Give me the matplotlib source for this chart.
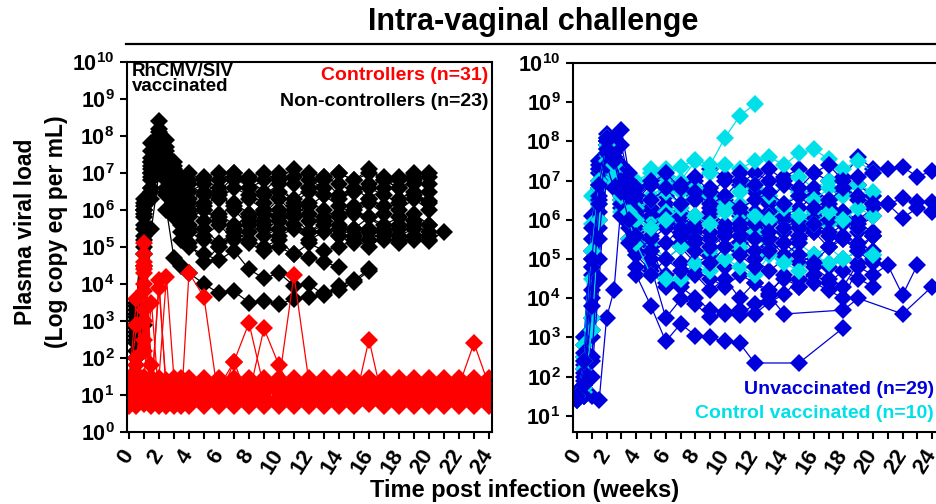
import numpy as np
import matplotlib
matplotlib.use('Agg')
import matplotlib.pyplot as plt
from matplotlib.lines import Line2D

plt.rcParams['font.family'] = ['Liberation Sans', 'DejaVu Sans']
plt.rcParams['font.weight'] = 'bold'
plt.rcParams['mathtext.fontset'] = 'custom'
plt.rcParams['mathtext.rm'] = 'Liberation Sans:bold'
plt.rcParams['mathtext.bf'] = 'Liberation Sans:bold'
plt.rcParams['mathtext.it'] = 'Liberation Sans:bold'

nan = np.nan

# sampling times (weeks post infection)
weeks = [0, 0.5, 1, 1.5, 2, 2.5, 3, 3.5, 4, 5, 6, 7, 8, 9, 10, 11, 12,
         13, 14, 15, 16, 17, 18, 19, 20, 21, 22, 23, 24]

# log10 plasma viral load per animal, RhCMV/SIV vaccinated non-controllers
non_controllers = [
    [1.3, 3.5, 6.0, 7.6, 8.4, 7.9, 7.3, 6.9, 6.8, 6.9, 7.0, 6.8, 6.9, 7.0, 6.8, 6.9, 7.0, 6.9, 7.0, 6.8, 7.0, 6.9, 6.8, 6.9, 7.0],
    [1.2, 2.8, 5.6, 7.2, 8.0, 7.6, 7.0, 6.6, 6.5, 6.7, 6.5, 6.9, 6.6, 6.8, 7.0, 6.7, 6.6, 6.9, 6.7, 6.5, 6.7, 6.8, 6.6, 6.7, 6.7],
    [1.3, 3.2, 6.2, 7.0, 7.8, 7.2, 6.7, 6.4, 6.2, 6.5, 6.3, 6.6, 6.4, 6.2, 6.5, 6.3, 6.6, 6.4, 6.3, 6.5, 6.6, 6.4, 6.2, 6.4, 6.25],
    [1.2, 2.5, 5.2, 6.8, 7.6, 7.0, 6.5, 6.1, 5.9, 6.0, 5.8, 6.2, 5.9, 6.0, 5.8, 6.1, 5.9, 5.7, 5.9, 6.0, 5.8, 5.6, 5.8, 5.7, 5.6],
    [1.3, 3.0, 5.8, 7.4, 8.1, 7.4, 6.9, 6.3, 6.0, 5.7, 5.9, 5.6, 5.8, 5.5, 5.7, 5.6, 5.4, 5.7, 5.5, 5.3, 5.5, 5.4, 5.2, 5.3, 5.2, 5.4],
    [1.2, 2.2, 4.8, 6.5, 7.3, 6.8, 6.2, 5.7, 5.5, 5.3, 5.6, 5.2, 5.4, 5.6, 5.3, 5.5, 5.2, 5.4, 5.3, 5.5, 5.2, 5.4, 5.3, 5.5, 5.16],
    [1.3, 2.9, 6.0, 7.1, 7.7, 7.0, 6.6, 6.2, 6.7, 6.4, 6.8, 7.0, 6.6, 6.4, 6.7, 6.2, 6.5, 6.8, 6.4, 6.6, 6.3, 6.6, 6.9, 7.0, 6.5],
    [1.2, 2.0, 4.5, 6.3, 7.2, 6.0, 4.7, 4.5, 4.3, 4.0, 3.75, 3.8, 3.5, 3.55, 3.45, 3.6, 3.65, 3.75, 3.85, 4.05, 4.35],
    [1.3, 2.4, 5.0, 6.6, 7.5, 6.6, 5.8, 5.2, 5.0, 4.8, 4.65, 4.9, 4.4, 4.15, 4.3, 3.95, 4.0, 3.7, 3.95, 4.1, 4.4],
    [1.2, 2.6, 5.3, 6.9, 7.6, 6.9, 6.3, 5.8, 5.4, 5.2, 5.0, 5.3, 5.1, 4.9, 5.0, 4.8, 4.7, 4.6, 4.45],
    [1.3, 3.4, 6.3, 7.3, 7.9, 7.3, 6.9, 6.6, 6.3, 6.1, 6.4, 6.1, 6.3, 6.0, 5.8, 6.0, 5.7, 5.8, 5.6, 5.5, 5.8, 5.5, 5.6, 5.9, 5.6],
    [1.2, 2.9, 5.5, 6.6, 7.4, 6.5, 6.0, 5.4, 5.1, 4.6, 5.0, 5.4, 5.2, 5.0, 5.2, 4.8, 5.1, 4.9, 5.0, 5.2, 5.0, 5.3, 5.1, 5.2, 5.3],
    [1.3, 3.1, 6.1, 7.8, 8.2, 7.7, 7.2, 6.8, 7.0, 6.8, 6.6, 7.0, 6.8, 6.5, 6.9, 7.1, 6.8, 6.6, 7.0, 6.8, 7.1, 6.8, 6.6, 6.8, 6.9],
    [1.2, 2.0, 2.9, 5.5, 7.0, 6.4, 5.9, 5.6, 5.8, 6.0, 5.7, 5.5, 5.9, 5.7, 6.0, 5.8, 6.2, 6.0, 5.8, 6.1, 6.3, 6.1, 6.0, 6.3, 6.0],
    [1.3, 2.7, 5.9, 7.3, 7.9, 7.5, 7.1, 6.5, 6.0, 6.2, 6.5, 6.0, 5.6, 5.9, 6.3, 5.9, 6.1, 6.4, 6.1, 5.9, 6.2, 5.9, 6.3, 6.5, 6.2],
    [1.2, 3.3, 6.0, 7.0, 7.7, 7.1, 6.4, 5.9, 5.6, 5.5, 5.1, 5.4, 5.7, 5.3, 5.5, 5.8, 5.4, 5.6, 5.3, 5.1, 5.4, 5.2, 5.5, 5.6, 5.4],
]

# RhCMV/SIV vaccinated controllers
controllers = [
    [1.3, 3.6, 5.1, 1.8, 1.3, 1.3, 1.3, 1.3, 1.3, 1.3, 1.3, 1.3, 1.3, 1.3, 1.3, 1.3, 1.3, 1.3, 1.3, 1.3, 1.3, 1.3, 1.3, 1.3, 1.3, 1.3, 1.3, 1.3, 1.3],
    [1.1, 2.9, 4.8, 1.1, 1.1, 1.1, 1.1, 1.1, 1.1, 1.1, 1.1, 1.1, 1.1, 1.1, 1.1, 1.1, 1.1, 1.1, 1.1, 1.1, 1.1, 1.1, 1.1, 1.1, 1.1, 1.1, 1.1, 1.1, 1.1],
    [0.95, 1.8, 4.5, 1.0, 4.1, 0.95, 0.95, 0.95, 0.95, 0.95, 0.95, 0.95, 0.95, 0.95, 0.95, 0.95, 0.95, 0.95, 0.95, 0.95, 0.95, 0.95, 0.95, 0.95, 0.95, 0.95, 0.95, 0.95, 0.95],
    [1.45, 1.45, 4.6, 1.45, 1.45, 4.2, 1.45, 1.45, 1.45, 1.45, 1.45, 1.45, 1.45, 1.45, 1.45, 1.45, 1.45, 1.45, 1.45, 1.45, 1.45, 1.45, 1.45, 1.45, 1.45, 1.45, 1.45, 1.45, 1.45],
    [0.8, 1.5, 3.8, 0.8, 0.8, 0.8, 0.8, 0.8, 4.3, 3.65, 0.8, 0.8, 0.8, 0.8, 0.8, 0.8, 0.8, 0.8, 0.8, 0.8, 0.8, 0.8, 0.8, 0.8, 0.8, 0.8, 0.8, 0.8, 0.8],
    [1.2, 1.2, 4.3, 1.2, 1.2, 1.2, 1.2, 1.2, 1.2, 1.2, 1.2, 1.9, 2.95, 1.2, 1.2, 1.2, 1.2, 1.2, 1.2, 1.2, 1.2, 1.2, 1.2, 1.2, 1.2, 1.2, 1.2, 1.2, 1.2],
    [1.0, 1.0, 3.0, 1.0, 1.0, 1.0, 1.0, 1.0, 1.0, 1.0, 1.0, 1.0, 1.0, 2.8, 1.8, 1.0, 1.0, 1.0, 1.0, 1.0, 1.0, 1.0, 1.0, 1.0, 1.0, 1.0, 1.0, 1.0, 1.0],
    [1.35, 1.35, 2.2, 1.35, 1.35, 1.35, 1.35, 1.35, 1.35, 1.35, 1.35, 1.35, 1.35, 1.35, 1.35, 4.25, 1.35, 1.35, 1.35, 1.35, 1.35, 1.35, 1.35, 1.35, 1.35, 1.35, 1.35, 1.35, 1.35],
    [0.7, 0.7, 3.0, 0.7, 0.7, 0.7, 0.7, 0.7, 0.7, 0.7, 0.7, 0.7, 0.7, 0.7, 0.7, 0.7, 0.7, 0.7, 0.7, 0.7, 2.5, 0.7, 0.7, 0.7, 0.7, 0.7, 0.7, 0.7, 0.7],
    [1.25, 1.25, 1.25, 1.25, 1.25, 1.25, 1.25, 1.25, 1.25, 1.25, 1.25, 1.25, 1.25, 1.25, 1.25, 1.25, 1.25, 1.25, 1.25, 1.25, 1.25, 1.25, 1.25, 1.25, 1.25, 1.25, 1.25, 2.4, 1.25],
    [0.85, 0.85, 3.3, 0.85, 0.85, 0.85, 0.85, 0.85, 0.85, 0.85, 0.85, 1.9, 0.85, 0.85, 0.85, 0.85, 0.85, 0.85, 0.85, 0.85, 0.85, 0.85, 0.85, 0.85, 0.85, 0.85, 0.85, 0.85, 0.85],
    [1.15, 1.6, 4.0, 1.15, 3.9, 1.15, 1.15, 1.15, 1.15, 1.15, 1.15, 1.15, 1.15, 1.15, 1.15, 1.15, 1.15, 1.15, 1.15, 1.15, 1.15, 1.15, 1.15, 1.15, 1.15, 1.15, 1.15, 1.15, 1.15],
    [1.4, 1.4, 2.5, 1.4, 1.4, 1.4, 1.4, 1.4, 1.4, 1.4, 1.4, 1.4, 1.4, 1.4, 1.4, 1.4, 1.4, 1.4, 1.4, 1.4, 1.4, 1.4, 1.4, 1.4, 1.4, 1.4, 1.4, 1.4, 1.4],
    [0.75, 2.0, 0.75, 0.75, 0.75, 0.75, 0.75, 0.75, 0.75, 0.75, 0.75, 0.75, 0.75, 0.75, 0.75, 0.75, 0.75, 0.75, 0.75, 0.75, 0.75, 0.75, 0.75, 0.75, 0.75, 0.75, 0.75, 0.75, 0.75],
    [1.05, 1.05, 4.4, 1.05, 1.05, 1.05, 1.05, 1.05, 1.05, 1.05, 1.05, 1.05, 1.05, 1.05, 1.05, 1.05, 1.05, 1.05, 1.05, 1.05, 1.05, 1.05, 1.05, 1.05, 1.05, 1.05, 1.05, 1.05, 1.05],
    [0.9, 0.9, 1.5, 3.5, 0.9, 0.9, 0.9, 0.9, 0.9, 0.9, 0.9, 0.9, 0.9, 0.9, 0.9, 0.9, 0.9, 0.9, 0.9, 0.9, 0.9, 0.9, 0.9, 0.9, 0.9, 0.9, 0.9, 0.9, 0.9],
]

# unvaccinated controls
unvaccinated = [
    [1.5, 2.5, 5.0, 7.0, 8.2, 7.8, 7.3, 6.8, 6.5, 6.9, 7.1, 6.8, 7.0, 7.3, 7.1, 6.9, 7.2, 7.0, 7.1, 7.3, 7.2, 7.0, 7.1, 7.6, 7.3, 7.3, 7.35, 7.1, 7.25],
    [1.4, 1.8, 3.5, 6.2, 7.8, 8.0, 7.4, 6.9, 6.3, 6.0, 6.2, 5.9, 6.1, 6.0, 6.3, 6.1, 5.8, 6.2, 6.0, 5.9, 6.1, 6.3, 6.0, 6.5, 6.4, 6.4, 6.55, 6.45, 6.45],
    [1.5, 1.6, 2.5, 5.0, 7.4, 7.0, 6.3, 5.5, 4.6, 3.8, 2.9, 3.35, 3.05, 3.0, 2.9, 2.85, 2.35, nan, nan, 2.35, nan, nan, 3.25],
    [1.6, 2.2, 4.6, 6.8, 8.1, 7.6, 7.0, 6.2, 5.5, 4.8, 3.5, 3.97, 3.85, 3.52, 3.6, 3.58, 3.85, 4.05, 3.6, nan, nan, nan, 3.7, 4.0, nan, nan, 3.6, nan, 4.3],
    [1.4, 1.5, 1.5, 1.4, 3.5, 4.2, 6.5, 6.0, 5.8, 5.3, 4.4, 4.3, 4.0, 3.7, 3.65, 3.7, 3.6, 3.9, 4.1, 4.5, 4.4, 4.2, 4.0, 4.8, 4.6, 4.85, 4.08, 4.85],
    [1.5, 3.0, 6.1, 7.5, 8.0, 7.7, 7.1, 6.6, 6.0, 5.6, 5.9, 5.4, 5.7, 5.5, 5.8, 5.4, 5.6, 5.3, 5.7, 5.5, 5.8, 5.6, 5.9, 5.7, 5.6],
    [1.4, 2.0, 4.0, 6.5, 7.9, 8.1, 8.3, 7.2, 6.8, 7.0, 6.6, 6.9, 6.5, 6.8, 6.6, 7.0, 6.7, 6.5, 6.9, 6.6, 6.8, 6.5, 6.7, 6.9, 6.6],
    [1.5, 1.6, 3.0, 5.8, 7.6, 7.4, 6.8, 6.1, 5.7, 5.2, 5.0, 5.3, 4.9, 5.1, 4.8, 5.2, 5.0, 4.7, 5.0, 4.9, 5.1, 4.8, 5.0, 5.2, 4.9],
    [1.4, 1.5, 2.0, 4.5, 7.2, 7.8, 7.9, 7.0, 6.4, 6.1, 6.4, 6.2, 6.6, 6.3, 6.5, 6.2, 6.0, 6.4, 6.1, 6.3, 6.6, 6.4, 6.2, 6.0, 6.3],
    [1.6, 2.8, 5.5, 7.2, 8.0, 7.3, 6.7, 6.2, 5.4, 5.0, 4.6, 4.4, 4.7, 4.5, 4.3, 4.6, 4.4, 4.2, 4.5, 4.3, 4.6, 4.4, 4.7, 4.5, 4.3],
    [1.5, 1.9, 4.2, 6.9, 7.7, 7.2, 6.4, 5.9, 5.2, 5.5, 5.8, 6.1, 5.8, 6.0, 5.7, 5.9, 6.2, 5.9, 6.1, 5.8, 6.0, 6.3, 6.0, 5.8, 6.1],
    [1.4, 2.3, 5.2, 7.3, 8.1, 7.9, 7.2, 6.5, 6.1, 6.3, 6.0, 5.6, 5.4, 5.7, 5.3, 5.6, 5.2, 5.5, 5.1, 5.4, 5.7, 5.3, 5.6, 5.4, 5.2],
    [1.5, 1.7, 3.2, 6.0, 7.5, 7.3, 6.6, 5.8, 5.1, 4.7, 4.3, 4.9, 4.6, 4.2, 4.5, 4.0, 4.4, 4.1, 4.6, 4.3, 4.8, 4.5, 4.3, 4.9, 5.0],
    [1.4, 2.6, 5.8, 7.4, 7.9, 7.5, 6.9, 6.4, 6.6, 6.9, 7.2, 6.8, 7.1, 6.7, 7.0, 7.2, 6.9, 7.3, 7.0, 6.8, 7.2, 7.4, 7.0, 7.1, 7.2],
    [1.5, 1.5, 2.4, 5.5, 7.7, 7.6, 7.0, 6.7, 6.2, 5.8, 6.1, 5.7, 5.9, 6.2, 5.9, 5.6, 5.9, 6.1, 5.8, 6.0, 5.7, 6.0, 6.2, 5.9, 5.7],
    [1.6, 2.1, 4.8, 6.6, 7.4, 6.8, 6.1, 5.4, 4.8, 4.6, 5.0, 4.7, 5.2, 4.9, 5.3, 5.1, 4.8, 5.2, 5.4, 5.1, 4.9, 5.3, 5.5, 5.2, 5.6],
    [1.4, 1.8, 3.8, 6.4, 7.8, 7.5, 6.7, 6.0, 5.6, 5.2, 5.4, 5.8, 5.5, 5.3, 5.6, 5.8, 5.5, 5.7, 5.4, 5.6, 5.9, 5.7, 5.5, 5.3, 5.6],
    [1.5, 2.4, 5.0, 6.9, 8.0, 7.6, 6.9, 6.6, 6.8, 6.5, 6.8, 6.4, 6.7, 6.4, 6.6, 6.3, 6.5, 6.7, 6.4, 6.6, 6.3, 6.5, 6.8, 6.6, 6.4, 6.4, 6.05, 6.3, 6.2],
]

# control vaccinated
control_vaccinated = [
    [1.5, 3.0, 6.6, 7.5, 8.0, 7.4, 6.8, 6.5, 6.8, 7.3, 7.1, 7.35, 7.53, 7.4, 8.1, 8.65, 8.95],
    [1.4, 2.5, 5.5, 7.2, 8.1, 7.7, 7.2, 6.9, 7.0, 7.2, 7.3, 7.0, 7.5, 7.2, 7.4, 7.3, 7.5, 7.6, 7.4, 7.7, 7.8, 7.55, 7.3, 7.5, 7.2],
    [1.5, 2.0, 4.5, 6.8, 7.9, 7.3, 6.5, 6.1, 6.0, 6.6, 6.9, 6.7, 6.5, 6.8, 6.6, 7.0, 6.8, 6.6, 6.9, 7.1, 6.8, 7.0, 6.7, 6.9, 6.6],
    [1.4, 1.6, 3.5, 6.4, 7.6, 7.0, 6.2, 5.5, 5.1, 5.4, 5.0, 5.3, 5.5, 5.2, 5.0, 5.3, 5.6, 5.2, 5.0, 5.4, 5.1, 5.3, 5.0, 5.2, 5.1],
    [1.5, 2.8, 5.9, 7.3, 7.8, 7.1, 6.4, 5.9, 5.6, 5.9, 6.2, 5.8, 6.1, 5.9, 6.3, 6.0, 5.7, 6.1, 5.8, 6.0, 6.2, 5.9, 6.1, 5.8, 5.6],
    [1.6, 2.2, 4.8, 6.9, 7.7, 7.5, 6.9, 6.6, 6.3, 6.5, 6.7, 6.4, 6.8, 6.6, 6.4, 6.7, 6.9, 6.6, 6.4, 6.7, 6.5, 6.8, 6.6, 6.9, 6.7],
    [1.4, 1.7, 3.2, 6.0, 7.5, 7.2, 6.7, 6.0, 5.4, 4.6, 4.5, 4.5, 4.9, 4.7, 5.0, 4.8, 4.6, 5.1, 4.9, 4.7, 5.1, 4.9, 5.0, 5.2, 5.1],
    [1.5, 2.4, 5.2, 7.0, 7.9, 7.4, 6.6, 6.2, 6.0, 5.8, 6.0, 6.3, 6.1, 5.9, 6.2, 6.4, 6.1, 6.0, 6.3, 6.1, 5.9, 6.2, 6.0, 6.3, 6.1],
]

RED = '#FF0000'
BLUE = '#0000DD'
CYAN = '#00E0E8'


def draw_one(ax, s, color):
    y = np.array(s[:len(weeks)], dtype=float)
    t = np.array(weeks[:len(y)], dtype=float)
    ok = ~np.isnan(y)
    ax.plot(t[ok], 10 ** y[ok], '-', marker='D', color=color, lw=0.9,
            ms=9, mew=0)


def style(ax):
    ax.set_yscale('log')
    ax.set_yticks([10.0 ** k for k in range(0, 11)])
    ax.set_yticklabels([r'$\mathbf{10^{%d}}$' % k for k in range(0, 11)])
    ax.minorticks_off()
    ax.set_xticks(range(25))
    ax.set_xticklabels([str(i) if i % 2 == 0 else '' for i in range(25)],
                       rotation=58, ha='right', va='center',
                       rotation_mode='anchor')
    ax.tick_params(axis='both', direction='out', length=5, width=1.5,
                   labelsize=15.5, pad=4)
    ax.tick_params(axis='x', pad=9, labelsize=16)
    for sp in ax.spines.values():
        sp.set_linewidth(1.5)


fig = plt.figure(figsize=(9.36, 5.04), dpi=100)

ax1 = fig.add_axes([127 / 936, 72 / 504, 365 / 936, 370 / 504])
for s in non_controllers:
    draw_one(ax1, s, 'black')
for s in controllers:
    draw_one(ax1, s, RED)
style(ax1)
ax1.set_xlim(-0.13, 24.2)
ax1.set_ylim(1, 1e10)

ax2 = fig.add_axes([573 / 936, 72 / 504, 363 / 936, 369 / 504])
# blue and cyan animals drawn interleaved so both groups show through
for i, s in enumerate(unvaccinated):
    draw_one(ax2, s, BLUE)
    if i % 2 == 1 and i // 2 < len(control_vaccinated):
        draw_one(ax2, control_vaccinated[i // 2], CYAN)
style(ax2)
ax2.set_xlim(-0.27, 24.26)
ax2.set_ylim(10 ** 0.59, 1e10)
ax2.set_yticks([10.0 ** k for k in range(1, 11)])
ax2.set_yticklabels([r'$\mathbf{10^{%d}}$' % k for k in range(1, 11)])
ax2.spines['right'].set_visible(False)

# title and rule
fig.text(533 / 936, 1 - 22 / 504, 'Intra-vaginal challenge', ha='center',
         va='center', fontsize=22, fontweight='bold')
fig.add_artist(Line2D([126 / 936, 1.0], [1 - 44 / 504] * 2, color='black',
                      lw=1.6))

# axis titles
fig.text(525 / 936, 1 - 491 / 504, 'Time post infection (weeks)', ha='center',
         va='center', fontsize=17, fontweight='bold')
fig.text(26 / 936, 1 - 232 / 504, 'Plasma viral load', rotation=90,
         ha='center', va='center', fontsize=16.5, fontweight='bold')
fig.text(56 / 936, 1 - 232 / 504, '(Log copy eq per mL)', rotation=90,
         ha='center', va='center', fontsize=16.5, fontweight='bold')

# group labels
fig.text(132 / 936, 1 - 63 / 504, 'RhCMV/SIV\nvaccinated', ha='left', va='top',
         fontsize=13.5, fontweight='bold', linespacing=0.85)
fig.text(488 / 936, 1 - 75 / 504, 'Controllers (n=31)', ha='right',
         va='center', fontsize=14, fontweight='bold', color=RED)
fig.text(488 / 936, 1 - 102 / 504, 'Non-controllers (n=23)', ha='right',
         va='center', fontsize=14, fontweight='bold', color='black')
fig.text(934 / 936, 1 - 390 / 504, 'Unvaccinated (n=29)', ha='right',
         va='center', fontsize=14, fontweight='bold', color=BLUE)
fig.text(934 / 936, 1 - 414 / 504, 'Control vaccinated (n=10)', ha='right',
         va='center', fontsize=14, fontweight='bold', color=CYAN)

fig.savefig('out.png', dpi=100)
